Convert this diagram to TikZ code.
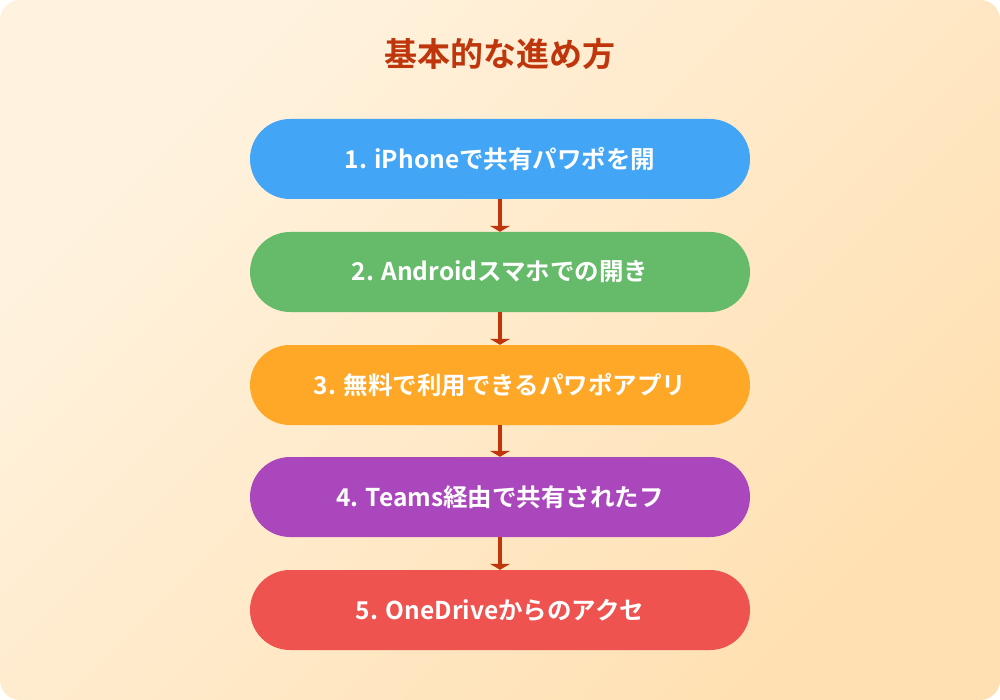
\documentclass[tikz,border=0pt]{standalone}
\usepackage{fontspec}
\setmainfont{Noto Sans CJK JP}[BoldFont={Noto Sans CJK JP Bold}]
\usetikzlibrary{arrows.meta}
\definecolor{bgA}{HTML}{FFF3E0}
\definecolor{bgB}{HTML}{FFE0B2}
\definecolor{titlec}{HTML}{BF360C}
\definecolor{c1}{HTML}{42A5F5}
\definecolor{c2}{HTML}{66BB6A}
\definecolor{c3}{HTML}{FFA726}
\definecolor{c4}{HTML}{AB47BC}
\definecolor{c5}{HTML}{EF5350}
\tikzset{
  pill/.style={rounded corners=40pt, minimum width=500pt, minimum height=80pt,
    inner sep=0pt, text=white, font=\fontsize{24.5pt}{28pt}\selectfont\bfseries},
  flow/.style={draw=titlec, line width=4pt, -{Triangle[width=20pt,length=6pt]}}
}
\begin{document}
\begin{tikzpicture}[x=1pt,y=-1pt]
\useasboundingbox (0,0) rectangle (1000,700);
\shade[rounded corners=20pt, top color=bgA, bottom color=bgB, shading angle=45] (0,0) rectangle (1000,700);
\node[text=titlec, font=\fontsize{33pt}{36pt}\selectfont\bfseries] (title) at (500,54) {基本的な進め方};
\node[pill, fill=c1] (s1) at (500,159) {1. iPhoneで共有パワポを開};
\node[pill, fill=c2] (s2) at (500,272) {2. Androidスマホでの開き};
\node[pill, fill=c3] (s3) at (500,385) {3. 無料で利用できるパワポアプリ};
\node[pill, fill=c4] (s4) at (500,497) {4. Teams経由で共有されたフ};
\node[pill, fill=c5] (s5) at (500,610) {5. OneDriveからのアクセ};
\draw[flow] (s1) -- (s2);
\draw[flow] (s2) -- (s3);
\draw[flow] (s3) -- (s4);
\draw[flow] (s4) -- (s5);
\end{tikzpicture}
\end{document}
